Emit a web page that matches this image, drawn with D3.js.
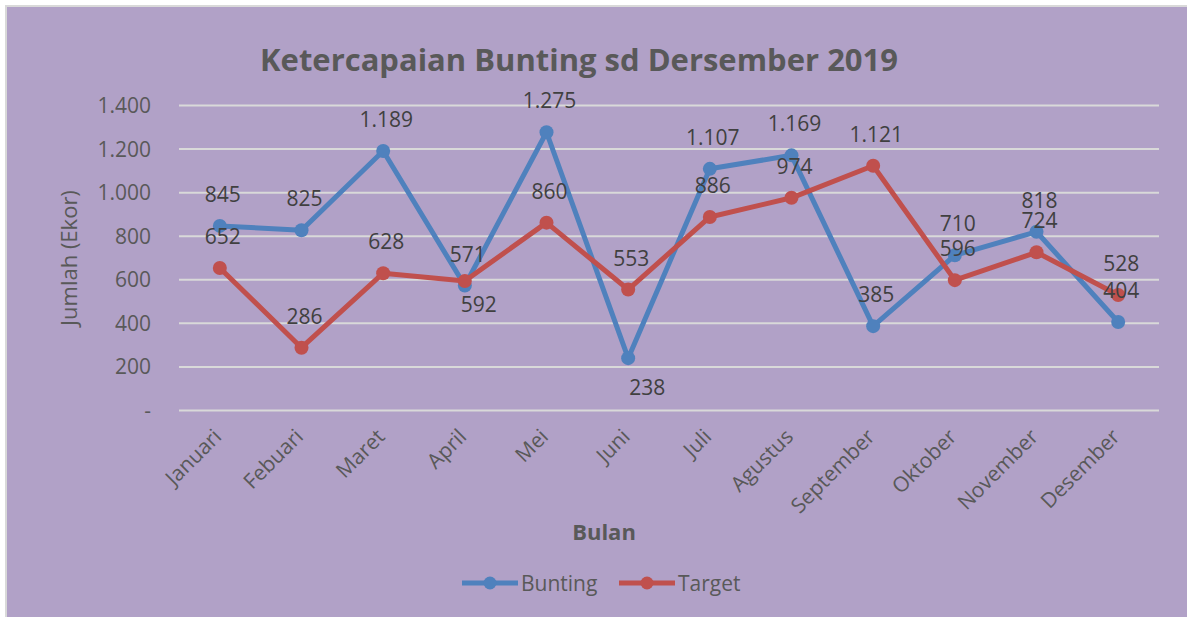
<!DOCTYPE html>
<html>
<head>
<meta charset="utf-8">
<script src="https://cdn.jsdelivr.net/npm/d3@7"></script>
<style>
  html, body { margin: 0; padding: 0; background: #ffffff; }
  svg { display: block; font-family: "Open Sans", "DejaVu Sans", sans-serif; }
</style>
</head>
<body>
<svg id="chart" width="1187" height="617"></svg>
<script>
// ---- data ----
const months = ["Januari","Febuari","Maret","April","Mei","Juni","Juli","Agustus","September","Oktober","November","Desember"];
const bunting = [845, 825, 1189, 571, 1275, 238, 1107, 1169, 385, 710, 818, 404];
const target  = [652, 286, 628, 592, 860, 553, 886, 974, 1121, 596, 724, 528];
const yTicks  = [0, 200, 400, 600, 800, 1000, 1200, 1400];
const seriesNames = ["Bunting", "Target"];
// label placement (style, not data)
const buntingLabelPos = ["a","a","a","a","a","b","a","a","a","a","a","a"];
const targetLabelPos  = ["a","a","a","b","a","a","a","a","a","a","a","a"];

const W = 1187, H = 617;
const colors = {Bunting: "#4F81BD", Target: "#C0504D"};
const svg = d3.select("#chart");

// background + frame
svg.append("rect").attr("x", 0).attr("y", 0).attr("width", W).attr("height", H).attr("fill", "#ffffff");
svg.append("rect").attr("x", 6).attr("y", 6).attr("width", W + 10).attr("height", H + 10)
  .attr("fill", "#B1A1C7").attr("stroke", "#D9D9D9").attr("stroke-width", 2);

const plot = {left: 179, right: 1159, top: 105, bottom: 410};
const x = d3.scaleBand().domain(months).range([plot.left, plot.right]).paddingInner(0).paddingOuter(0);
const cx = m => x(m) + x.bandwidth() / 2;
const y = d3.scaleLinear().domain([0, 1400]).range([plot.bottom, plot.top]);

const loc = d3.formatLocale({decimal: ",", thousands: ".", grouping: [3], currency: ["Rp", ""]});
const fmt = loc.format(",d");
const tickFmt = v => v === 0 ? "-" : fmt(v);

// gridlines
const yAxis = d3.axisLeft(y).tickValues(yTicks).tickFormat(tickFmt).tickSize(-(plot.right - plot.left)).tickPadding(28);
const gy = svg.append("g").attr("transform", `translate(${plot.left},0)`).call(yAxis);
gy.select(".domain").remove();
gy.selectAll(".tick line").attr("stroke", "#D9D9D9").attr("stroke-width", 2);
gy.selectAll(".tick text").attr("fill", "#595959").attr("font-size", 21).attr("dy", "0.36em")
  .attr("font-family", "'Open Sans', sans-serif");

// x axis labels
const xAxis = d3.axisBottom(x).tickSize(0).tickPadding(0);
const gx = svg.append("g").attr("transform", `translate(0,${plot.bottom})`).call(xAxis);
gx.select(".domain").remove();
gx.selectAll(".tick text")
  .attr("fill", "#595959").attr("font-size", 21).attr("font-family", "'Open Sans', sans-serif")
  .attr("text-anchor", "end").attr("dy", 0).attr("y", 0)
  .attr("transform", "translate(3,28) rotate(-45)");

// lines
const line = d3.line().x(d => cx(d.m)).y(d => y(d.v));
const seriesData = [
  {name: "Bunting", vals: bunting, pos: buntingLabelPos},
  {name: "Target", vals: target, pos: targetLabelPos}
];
seriesData.forEach(s => {
  const pts = months.map((m, i) => ({m, v: s.vals[i]}));
  svg.append("path").datum(pts).attr("d", line).attr("fill", "none")
    .attr("stroke", colors[s.name]).attr("stroke-width", 5).attr("stroke-linejoin", "round");
  svg.selectAll(null).data(pts).enter().append("circle")
    .attr("cx", d => cx(d.m)).attr("cy", d => y(d.v)).attr("r", 7).attr("fill", colors[s.name]);
});

// data labels
seriesData.forEach(s => {
  const pts = months.map((m, i) => ({m, v: s.vals[i], p: s.pos[i]}));
  svg.selectAll(null).data(pts).enter().append("text")
    .attr("x", d => cx(d.m) + (d.p === "a" ? 3 : (s.name === "Bunting" ? 19 : 14)))
    .attr("y", d => y(d.v) + (d.p === "a" ? -24 : (s.name === "Bunting" ? 37 : 31)))
    .attr("text-anchor", "middle").attr("font-size", 21).attr("fill", "#404040")
    .text(d => fmt(d.v));
});

// title
svg.append("text").attr("x", 579).attr("y", 71).attr("text-anchor", "middle")
  .attr("font-size", 31).attr("font-weight", "bold").attr("fill", "#595959")
  .attr("textLength", 638).attr("lengthAdjust", "spacingAndGlyphs")
  .text("Ketercapaian Bunting sd Dersember 2019");

// axis titles
svg.append("text").attr("transform", "translate(77,258) rotate(-90)").attr("text-anchor", "middle")
  .attr("font-size", 22).attr("fill", "#595959").text("Jumlah (Ekor)");
svg.append("text").attr("x", 604).attr("y", 540).attr("text-anchor", "middle")
  .attr("font-size", 22).attr("font-weight", "bold").attr("fill", "#595959").text("Bulan");

// legend
const legendX = [462, 619];
seriesNames.forEach((n, i) => {
  const g = svg.append("g").attr("transform", `translate(${legendX[i]},583)`);
  g.append("line").attr("x1", 0).attr("x2", 56).attr("y1", 0).attr("y2", 0)
    .attr("stroke", colors[n]).attr("stroke-width", 5);
  g.append("circle").attr("cx", 28).attr("cy", 0).attr("r", 6.5).attr("fill", colors[n]);
  g.append("text").attr("x", 59).attr("y", 0).attr("dy", "0.36em").attr("font-size", 21)
    .attr("fill", "#595959").text(n);
});
</script>
</body>
</html>
